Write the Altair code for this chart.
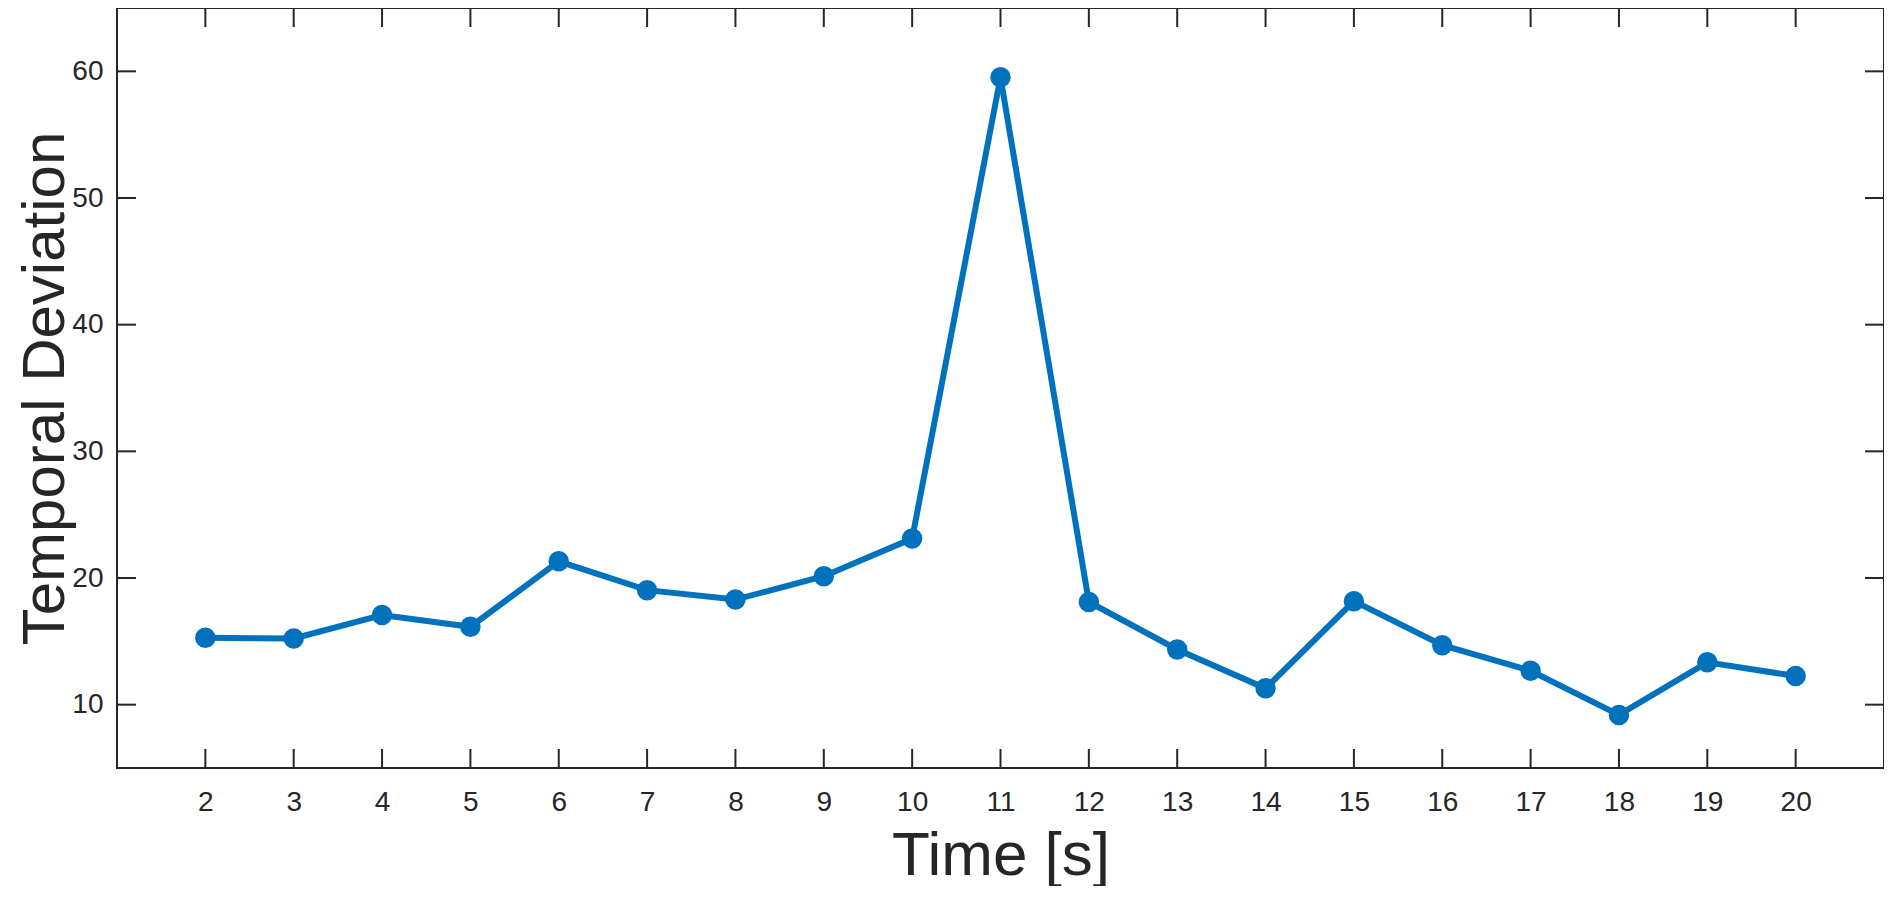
import altair as alt
import pandas as pd

# ---- data ----
time_s = list(range(2, 21))
deviation = [15.28, 15.23, 17.07, 16.15, 21.32, 19.04, 18.30, 20.14, 23.11, 59.53,
             18.11, 14.36, 11.29, 18.17, 14.70, 12.68, 9.19, 13.34, 12.26]
x_ticks = list(range(2, 21))
y_ticks = [10, 20, 30, 40, 50, 60]

W, H = 1767, 760
TICK = 19
INK = "#262626"
BLUE = "#0072BD"
FONT = "Liberation Sans"

xs = alt.Scale(domain=[1, 21], nice=False, zero=False)
ys = alt.Scale(domain=[5, 65], nice=False, zero=False)

df = pd.DataFrame({"t": time_s, "d": deviation})
xt = pd.DataFrame({"t": x_ticks})
yt = pd.DataFrame({"d": y_ticks})

x_axis = alt.Axis(
    values=x_ticks, format="d", title="Time [s]", grid=False, domain=False,
    ticks=False, tickSize=0, labelFontSize=28, labelFont=FONT, labelColor=INK,
    labelPadding=20, labelFlush=False, titleFontSize=62, titleFont=FONT,
    titleFontWeight="normal", titleColor=INK, titleBaseline="alphabetic",
    titleX=W / 2, titleY=106,
)
y_axis = alt.Axis(
    values=y_ticks, format="d", title="Temporal Deviation", grid=False, domain=False,
    ticks=False, tickSize=0, labelFontSize=28, labelFont=FONT, labelColor=INK,
    labelPadding=14, labelFlush=False, titleFontSize=60, titleFont=FONT,
    titleFontWeight="normal", titleColor=INK, titleBaseline="alphabetic",
    titleAngle=270, titleX=-54, titleY=H / 2,
)

X = alt.X("t:Q", scale=xs, axis=x_axis)
Y = alt.Y("d:Q", scale=ys, axis=y_axis)

line = alt.Chart(df).mark_line(color=BLUE, strokeWidth=6).encode(x=X, y=Y)
points = alt.Chart(df).mark_circle(color=BLUE, size=420, opacity=1).encode(x=X, y=Y)

rule_style = dict(color=INK, strokeWidth=2)
bottom_ticks = alt.Chart(xt).mark_rule(**rule_style).encode(
    x=X, y=alt.value(H), y2=alt.value(H - TICK))
top_ticks = alt.Chart(xt).mark_rule(**rule_style).encode(
    x=X, y=alt.value(0), y2=alt.value(TICK))
left_ticks = alt.Chart(yt).mark_rule(**rule_style).encode(
    y=Y, x=alt.value(0), x2=alt.value(TICK))
right_ticks = alt.Chart(yt).mark_rule(**rule_style).encode(
    y=Y, x=alt.value(W), x2=alt.value(W - TICK))

chart = alt.layer(
    line, points, bottom_ticks, top_ticks, left_ticks, right_ticks
).properties(
    width=W, height=H, autosize="none",
    padding={"left": 109, "top": 0, "right": 0, "bottom": 118},
    background="white",
).configure_view(stroke=INK, strokeWidth=2)

chart.save("out.html", embed_options={"renderer": "svg", "actions": False})
